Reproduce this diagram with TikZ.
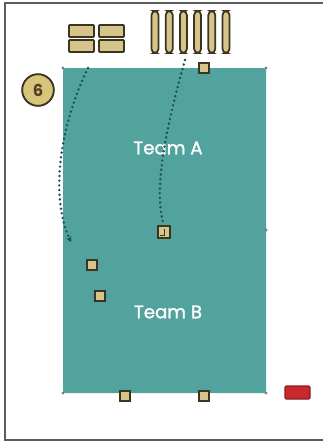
\documentclass[tikz,border=0pt]{standalone}
\usepackage{fontspec}
\setsansfont{Poppins}
\newfontfamily\teamfont[FakeBold=1.2]{Poppins}
\usetikzlibrary{arrows.meta}
\definecolor{fieldteal}{HTML}{52A39E}
\definecolor{padtan}{HTML}{D6C48A}
\definecolor{padedge}{HTML}{3A3520}
\definecolor{badgetan}{HTML}{D8C47A}
\definecolor{pathteal}{HTML}{1F4E55}
\definecolor{framegray}{HTML}{5C5C5C}
\definecolor{alertred}{HTML}{C9282C}

\begin{document}
\begin{tikzpicture}[x=0.03cm, y=-0.03cm, line width=0.7pt, >={Stealth[length=1.6mm, width=1.6mm]},
  handle/.style={draw=padedge, fill=padtan, line width=1.3pt, minimum size=0.3cm, inner sep=0pt},
  pad/.style={draw=padedge, fill=padtan, line width=1.5pt, rounded corners=0.8pt},
  corner/.style={circle, fill=framegray!80, minimum size=0.1cm, inner sep=0pt},
  route/.style={pathteal, line width=2.3pt, dash pattern=on 0pt off 4pt, line cap=round},
  teamlabel/.style={text=white, font=\teamfont\fontsize{15.5}{18}\selectfont}]
  \useasboundingbox (0,0) rectangle (323,443);
  % page frame (left, top, bottom)
  \draw[framegray, line width=1.4pt] (323,3) -- (5,3) -- (5,440) -- (323,440);
  % field
  \fill[fieldteal, rounded corners=1.5pt] (63,68) rectangle (266,393);
  \foreach \cx/\cy [count=\k] in {63/68, 266/68, 63/393, 266/393, 266/230}
    \node[corner] (c\k) at (\cx,\cy) {};
  % pad grid (2x2)
  \foreach \px in {69,99}
    \foreach \py in {25,40}
      \draw[pad] (\px,\py) rectangle (\px+25,\py+12);
  % pills
  \foreach \i in {0,...,5}
    \draw[pad, rounded corners=3.5pt] (151.5+\i*14.2,11) rectangle (158.5+\i*14.2,53);
  % badge
  \node[circle, draw=padedge, fill=badgetan, line width=1.6pt, minimum size=0.95cm, inner sep=0pt,
        font=\sffamily\bfseries\fontsize{14}{15}\selectfont, text=padedge!85!brown] (badge) at (38,90) {6};
  % handles
  \node[handle] (htop) at (204,68) {};
  \node[handle, minimum size=0.36cm] (hmid) at (164,232) {};
  \draw[padedge, line width=0.6pt] (hmid.center) ++(0,-3) -- ++(0,6) -- ++(-4,0);
  \node[handle] (hl1) at (92,265) {};
  \node[handle] (hl2) at (100,296) {};
  \node[handle] (hb1) at (125,396) {};
  \node[handle] (hb2) at (204,396) {};
  \draw[alertred!70!black, fill=alertred, line width=0.9pt, rounded corners=1pt] (285,386) rectangle (310,399);
  % team labels
  \node[teamlabel] (teamA) at (168,148) {Team A};
  \node[teamlabel] (teamB) at (168,312) {Team B};
  % routes
  \coordinate (r1s) at (88,68);
  \coordinate (r1e) at (71,242);
  \coordinate (r2s) at (185,60);
  \node[corner, minimum size=0.07cm] (r2dot) at (r2s) {};
  \draw[route] (r1s) .. controls (58,130) and (50,200) .. (r1e);
  \draw[pathteal, line width=1.2pt, ->] (r1e) ++(-2,-4) -- (r1e);
  \draw[route] (r2s) .. controls (168,120) and (152,190) .. (hmid.north);
\end{tikzpicture}
\end{document}
